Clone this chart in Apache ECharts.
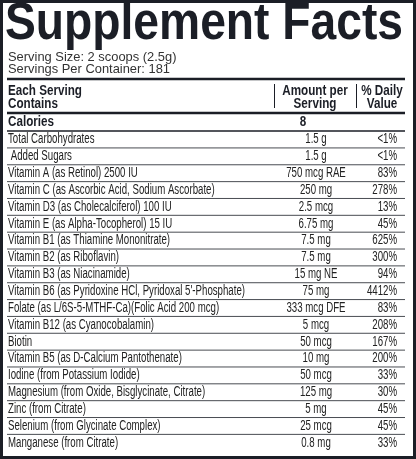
<!DOCTYPE html><html><head><meta charset="utf-8">
<script src="https://cdn.jsdelivr.net/npm/echarts@6/dist/echarts.min.js"></script>
<style>html,body{margin:0;padding:0;background:#fff}#c{width:416px;height:459px}</style></head><body><div id="c"></div>
<script>
const title = "Supplement Facts";
const servingLines = ["Serving Size: 2 scoops (2.5g)", "Servings Per Container: 181"];
const headers = [["Each Serving", "Contains"], ["Amount per", "Serving"], ["% Daily", "Value"]];
const calories = ["Calories", "8"];
const nutrients = ["Total Carbohydrates"," Added Sugars","Vitamin A (as Retinol) 2500 IU","Vitamin C (as Ascorbic Acid, Sodium Ascorbate)","Vitamin D3 (as Cholecalciferol) 100 IU","Vitamin E (as Alpha-Tocopherol) 15 IU","Vitamin B1 (as Thiamine Mononitrate)","Vitamin B2 (as Riboflavin)","Vitamin B3 (as Niacinamide)","Vitamin B6 (as Pyridoxine HCl, Pyridoxal 5'-Phosphate)","Folate (as L/6S-5-MTHF-Ca)(Folic Acid 200 mcg)","Vitamin B12 (as Cyanocobalamin)","Biotin","Vitamin B5 (as D-Calcium Pantothenate)","Iodine (from Potassium Iodide)","Magnesium (from Oxide, Bisglycinate, Citrate)","Zinc (from Citrate)","Selenium (from Glycinate Complex)","Manganese (from Citrate)"];
const amounts = ["1.5 g","1.5 g","750 mcg RAE","250 mg","2.5 mcg","6.75 mg","7.5 mg","7.5 mg","15 mg NE","75 mg","333 mcg DFE","5 mcg","50 mcg","10 mg","50 mcg","125 mg","5 mg","25 mcg","0.8 mg"];
const dailyValues = ["<1%","<1%","83%","278%","13%","45%","625%","300%","94%","4412%","83%","208%","167%","200%","33%","30%","45%","45%","33%"];

const C = '#1b1e26', F = '"Liberation Sans",Arial,sans-serif';
const cv = document.createElement('canvas').getContext('2d');
const fit = (font, s, w) => { cv.font = font; return w / cv.measureText(s).width; };
const TF = 'bold 51px '+F, BF = '14px '+F, HF = 'bold 14px '+F, SF = '13.5px '+F;
const sT = fit(TF, title, 398);
const sB = fit(BF, nutrients[9], 237);
const sH = fit(HF, headers[0][0], 74);
const sS = fit(SF, servingLines[1], 162);
const g = [];
const txt = (x,y,s,font,sc,o={}) => g.push({type:'text',x,y,scaleX:sc,style:Object.assign({text:s,fill:C,font,textVerticalAlign:'middle'},o)});
const line = (x1,y1,x2,y2,w) => g.push({type:'line',shape:{x1,y1,x2,y2},style:{stroke:C,lineWidth:w}});
g.push({type:'rect',shape:{x:1.5,y:1.5,width:413,height:456},style:{fill:'none',stroke:C,lineWidth:3}});
txt(5,25,title,TF,sT);
servingLines.forEach((s,i)=>txt(8,57+i*12.5,s,SF,sS,{fill:'#333'}));
line(7,79,405,79,2.5);
txt(8,91,headers[0][0],HF,sH); txt(8,104,headers[0][1],HF,sH);
txt(315,91,headers[1][0],HF,sH,{textAlign:'center'}); txt(315,104,headers[1][1],HF,sH,{textAlign:'center'});
txt(382,91,headers[2][0],HF,sH,{textAlign:'center'}); txt(382,104,headers[2][1],HF,sH,{textAlign:'center'});
line(274.5,84,274.5,108,1); line(356.5,84,356.5,108,1);
line(7,113,405,113,2.5);
txt(8,122,calories[0],HF,sH); txt(303,122,calories[1],HF,sH,{textAlign:'center'});
line(7,131,405,131,1.5);
const y0=139.5, dy=16.85;
nutrients.forEach((n,i)=>{
  const y=y0+i*dy;
  txt(8,y,n,BF,sB,{fill:'#222'});
  txt(316,y,amounts[i],BF,sB,{textAlign:'center',fill:'#222'});
  txt(397,y,dailyValues[i],BF,sB,{textAlign:'right',fill:'#222'});
  if(i>0) line(7,y-dy/2,405,y-dy/2,0.8);
});
const ch = echarts.init(document.getElementById('c'));
ch.setOption({animation:false,graphic:g});
</script></body></html>
